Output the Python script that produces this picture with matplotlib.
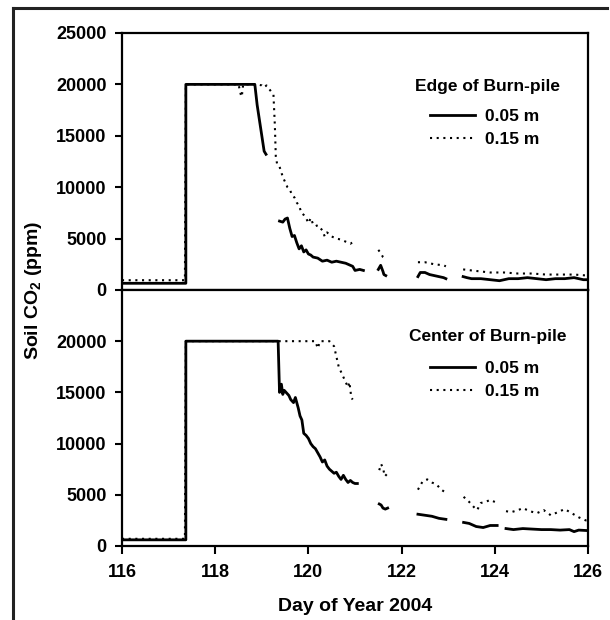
import matplotlib
matplotlib.use('Agg')
import matplotlib.pyplot as plt
from matplotlib.lines import Line2D
import numpy as np

nan = np.nan

# Edge of burn-pile, 0.05 m
edge_x_05 = [116.0, 117.37, 117.37, 118.85, 118.9, 118.95, 119.0, 119.05, 119.09, nan,
             119.38, 119.45, 119.5, 119.55, 119.6, 119.65, 119.7, 119.75, 119.8, 119.85,
             119.9, 119.95, 120.0, 120.05, 120.1, 120.2, 120.3, 120.4, 120.5, 120.6,
             120.7, 120.8, 120.9, 120.95, 121.0, 121.1, 121.18, nan,
             121.5, 121.55, 121.6, 121.62, 121.66, nan,
             122.35, 122.4, 122.5, 122.6, 122.7, 122.8, 122.9, 122.95, nan,
             123.32, 123.4, 123.5, 123.7, 123.9, 124.1, 124.3, 124.5, 124.7, 124.9,
             125.1, 125.3, 125.5, 125.7, 125.9, 126.0]
edge_y_05 = [650, 650, 20000, 20000, 18000, 16500, 15000, 13500, 13200, nan,
             6700, 6600, 6900, 7000, 6000, 5200, 5300, 4600, 4000, 4300,
             3700, 3900, 3500, 3400, 3200, 3100, 2800, 2900, 2700, 2800,
             2700, 2600, 2400, 2300, 1900, 2000, 1900, nan,
             2000, 2400, 1800, 1500, 1400, nan,
             1300, 1700, 1700, 1500, 1400, 1300, 1200, 1100, nan,
             1300, 1200, 1100, 1100, 1000, 900, 1100, 1100, 1200, 1100,
             1000, 1100, 1100, 1200, 1000, 1000]

# Edge of burn-pile, 0.15 m
edge_x_15 = [116.0, 117.35, 117.37, 118.5, 118.55, 118.57, 118.6, 118.9, 119.0, 119.05,
             119.1, 119.15, 119.2, 119.25, 119.28, 119.3, 119.33, 119.38, 119.45, 119.5,
             119.55, 119.6, 119.65, 119.7, 119.75, 119.8, 119.85, 119.9, 119.95, 120.0,
             120.05, 120.1, 120.15, 120.2, 120.3, 120.35, 120.4, 120.5, 120.6, 120.7,
             120.8, 120.9, 120.97, nan,
             121.5, 121.55, 121.6, 121.65, nan,
             122.35, 122.5, 122.7, 122.9, 122.95, nan,
             123.32, 123.5, 123.7, 123.9, 124.2, 124.5, 124.8, 125.1, 125.4, 125.7, 126.0]
edge_y_15 = [950, 950, 20000, 20000, 19000, 18800, 20000, 20000, 19900, 19700,
             19900, 19600, 19300, 19000, 16000, 13000, 12200, 12000, 11000, 10500,
             10000, 9800, 9200, 9000, 8500, 8200, 7500, 7300, 7000, 6500,
             7000, 6400, 6200, 6300, 5800, 5200, 5600, 5200, 5000, 4900,
             4700, 4500, 4700, nan,
             3900, 3600, 3200, 3000, nan,
             2700, 2700, 2500, 2400, 2300, nan,
             2000, 1900, 1800, 1700, 1700, 1600, 1600, 1500, 1500, 1500, 1400]

# Center of burn-pile, 0.05 m
center_x_05 = [116.0, 117.37, 117.37, 119.35, 119.38, 119.42, 119.45, 119.48, 119.52, 119.58,
               119.62, 119.68, 119.72, 119.78, 119.82, 119.86, 119.9, 119.95, 120.0, 120.05,
               120.1, 120.15, 120.2, 120.25, 120.3, 120.35, 120.4, 120.45, 120.5, 120.55,
               120.6, 120.65, 120.7, 120.75, 120.8, 120.85, 120.9, 120.95, 121.0, 121.05, nan,
               121.52, 121.56, 121.6, 121.65, 121.7, nan,
               122.35, 122.5, 122.65, 122.8, 122.95, nan,
               123.33, 123.45, 123.6, 123.75, 123.9, 124.05, nan,
               124.24, 124.4, 124.6, 124.8, 125.0, 125.2, 125.4, 125.6, 125.7, 125.8, 126.0]
center_y_05 = [600, 600, 20000, 20000, 15000, 15800, 14800, 15200, 15000, 14700,
               14300, 14000, 14500, 13500, 12700, 12300, 11000, 10800, 10500, 10000,
               9700, 9500, 9100, 8700, 8200, 8400, 7800, 7500, 7300, 7100,
               7200, 6800, 6500, 6900, 6500, 6200, 6400, 6200, 6100, 6100, nan,
               4100, 4000, 3700, 3600, 3700, nan,
               3100, 3000, 2900, 2700, 2600, nan,
               2300, 2200, 1900, 1800, 2000, 2000, nan,
               1700, 1600, 1700, 1650, 1600, 1600, 1550, 1600, 1400, 1550, 1500]

# Center of burn-pile, 0.15 m
center_x_15 = [116.0, 117.35, 117.37, 120.15, 120.2, 120.25, 120.3, 120.45, 120.55, 120.6,
               120.65, 120.7, 120.75, 120.8, 120.85, 120.88, 120.92, 120.95, nan,
               121.52, 121.56, 121.6, 121.64, 121.68, nan,
               122.35, 122.45, 122.55, 122.65, 122.75, 122.85, 122.95, nan,
               123.33, 123.45, 123.55, 123.62, 123.7, 123.8, 123.9, 124.0, nan,
               124.24, 124.35, 124.5, 124.6, 124.75, 124.9, 125.05, 125.2, 125.35,
               125.5, 125.65, 125.8, 125.95, 126.0]
center_y_15 = [700, 700, 20000, 20000, 19300, 20000, 20000, 20000, 19500, 18500,
               17500, 17000, 16500, 16000, 15500, 16000, 14500, 14300, nan,
               7400, 8000, 7600, 6800, 7000, nan,
               5500, 6300, 6500, 6200, 6000, 5500, 5200, nan,
               4800, 4300, 3800, 3500, 4200, 4300, 4500, 4300, nan,
               3400, 3300, 3500, 3700, 3400, 3200, 3500, 3000, 3300,
               3600, 3200, 2800, 2500, 2500]

depth_labels = ['0.05 m', '0.15 m']
x_ticks = [116, 118, 120, 122, 124, 126]

plt.rcParams['font.family'] = 'Liberation Sans'
plt.rcParams['font.weight'] = 'bold'
plt.rcParams['mathtext.fontset'] = 'custom'
plt.rcParams['mathtext.rm'] = 'Liberation Sans:bold'
plt.rcParams['mathtext.bf'] = 'Liberation Sans:bold'


def draw_panel(ax, x05, y05, x15, y15, title, yticks, title_y, leg_y):
    ax.plot(x15, y15, color='black', linestyle=(0, (1, 2.2)), linewidth=1.5, label=depth_labels[1])
    ax.plot(x05, y05, color='black', linestyle='-', linewidth=2.0, label=depth_labels[0])
    ax.set_xlim(116, 126)
    ax.set_ylim(0, 25000)
    ax.set_yticks(yticks)
    for s in ax.spines.values():
        s.set_linewidth(1.6)
    ax.tick_params(axis='y', direction='out', length=5, width=1.5, labelsize=13, pad=6)
    # legend title as its own text so the gap to the entries matches
    ax.text(0.785, title_y, title, transform=ax.transAxes, ha='center', va='center',
            fontsize=12.5, fontweight='bold')
    h, l = ax.get_legend_handles_labels()
    leg = ax.legend(h[::-1], l[::-1], loc='upper left', bbox_to_anchor=(0.661, leg_y),
                    frameon=False, fontsize=12.5, borderpad=0, borderaxespad=0,
                    handlelength=2.6, handletextpad=0.55, labelspacing=0.45)
    return leg


fig = plt.figure(figsize=(6.1, 6.2), dpi=100)
ax1 = fig.add_axes([0.2, 0.5323, 0.764, 0.4145])
ax2 = fig.add_axes([0.2, 0.1194, 0.764, 0.4129])

draw_panel(ax1, edge_x_05, edge_y_05, edge_x_15, edge_y_15, 'Edge of Burn-pile',
           [0, 5000, 10000, 15000, 20000, 25000], 0.790, 0.704)
draw_panel(ax2, center_x_05, center_y_05, center_x_15, center_y_15, 'Center of Burn-pile',
           [0, 5000, 10000, 15000, 20000], 0.820, 0.724)

ax1.set_xticks(x_ticks)
ax1.tick_params(axis='x', bottom=False, labelbottom=False)
ax2.set_xticks(x_ticks)
ax2.tick_params(axis='x', direction='out', length=6, width=1.5, labelsize=13, pad=7)
ax2.set_xlabel('Day of Year 2004', fontsize=14, fontweight='bold', labelpad=12)

fig.text(33 / 610, 1 - 290 / 620, 'Soil CO$_2$ (ppm)', rotation=90, fontsize=14,
         fontweight='bold', ha='center', va='center')

# cropped frame around the figure (only top and left visible)
fig.add_artist(Line2D([13 / 610, 13 / 610], [0, 1 - 8 / 620], color='#222222', linewidth=2.2))
fig.add_artist(Line2D([13 / 610, 607 / 610], [1 - 8 / 620, 1 - 8 / 620], color='#222222', linewidth=2.2))

fig.savefig('out.png', dpi=100, facecolor='white')
